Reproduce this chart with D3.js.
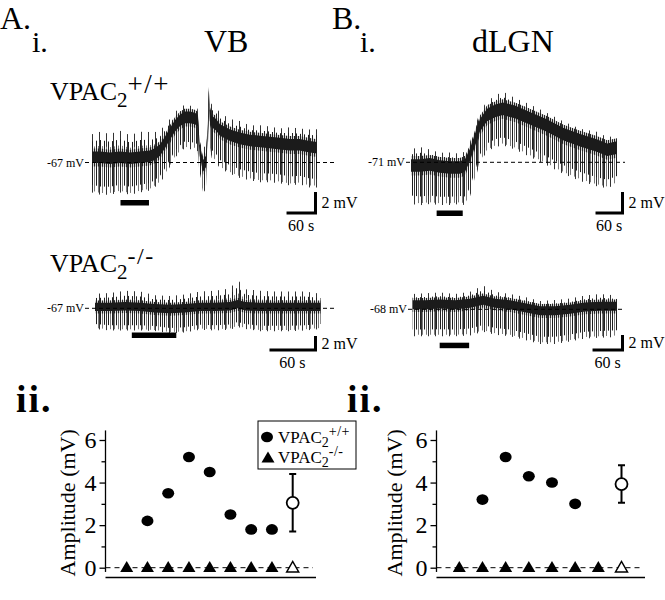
<!DOCTYPE html>
<html>
<head>
<meta charset="utf-8">
<script src="https://cdn.jsdelivr.net/npm/d3@7"></script>
<style>
    body { margin: 0; background: #fff; }
    svg, svg text { font-family: "Liberation Serif", "Times New Roman", Times, serif; }
    .ax line { stroke: #000; stroke-width: 1.3px; }
    .ax text { fill: #000; }
</style>
</head>
<body>
<svg id="fig" width="665" height="600"></svg>
<script>
// ---------- traces: time (s), mean level (mV re rest), spike height above and depth below (mV)
// A top: VB, VPAC2 +/+
var vbWtTime = [0, 17, 37, 58, 79, 99, 120, 130, 141, 151, 161, 172, 182, 192, 203, 213, 219, 223, 230, 236,
                240, 242, 244, 248, 257, 265, 286, 306, 327, 348, 368, 389, 410, 430, 451, 466];
var vbWtMid  = [0.5, 0.5, 0.4, 0.5, 0.4, 0.5, 0.6, 0.8, 1.2, 1.9, 2.7, 3.5, 4.0, 4.3, 4.3, 4.2, 4.0, 1.2, -0.3, 0.1,
                3.1, 6.4, 4.5, 3.9, 3.6, 3.1, 2.6, 2.3, 2.1, 2.0, 1.9, 1.8, 1.7, 1.7, 1.5, 1.4];
var vbWtUp   = [2.0, 2.2, 2.1, 2.3, 2.0, 2.2, 2.1, 1.9, 1.7, 1.5, 1.3, 1.2, 1.1, 1.1, 1.0, 1.1, 1.0, 1.2, 1.5, 1.4,
                1.0, 0.6, 1.2, 1.5, 1.5, 1.5, 1.4, 1.5, 1.3, 1.4, 1.4, 1.3, 1.5, 1.4, 1.5, 1.6];
var vbWtDown = [3.2, 3.4, 3.3, 3.2, 3.3, 3.2, 3.1, 3.0, 3.0, 3.0, 3.0, 2.9, 2.9, 2.8, 2.9, 2.8, 2.8, 2.6, 2.5, 2.5,
                2.0, 2.5, 3.0, 3.3, 3.4, 3.5, 3.5, 3.6, 3.6, 3.7, 3.6, 3.6, 3.7, 3.6, 3.7, 3.6];
// A bottom: VB, VPAC2 -/-
var vbKoTime = [0, 20, 39, 59, 78, 98, 117, 137, 156, 176, 186, 196, 215, 235, 254, 274, 294];
var vbKoMid  = [0.2, 0.2, 0.3, 0.2, 0.0, -0.1, 0.0, 0.2, 0.2, 0.3, 0.6, 0.3, 0.2, 0.2, 0.2, 0.2, 0.2];
var vbKoUp   = [1.7, 1.8, 2.0, 2.0, 1.7, 1.7, 1.8, 2.0, 2.1, 2.3, 3.2, 2.2, 2.1, 2.0, 2.0, 2.0, 1.7];
var vbKoDown = [3.0, 3.2, 3.3, 3.2, 3.1, 3.3, 3.3, 3.1, 3.2, 3.2, 3.1, 3.1, 3.3, 3.3, 3.3, 3.2, 3.0];
// B top: dLGN, VPAC2 +/+
var dlgnWtTime = [0, 20, 42, 64, 87, 109, 120, 131, 142, 153, 169, 187, 204, 231, 264, 302, 338, 376, 413, 436, 458];
var dlgnWtMid  = [-0.3, -0.3, -0.2, -0.4, -0.5, -0.5, -0.3, 0.7, 2.1, 3.5, 4.5, 4.9, 5.1, 4.8, 4.2, 3.5, 2.7, 2.1, 1.6, 1.2, 1.4];
var dlgnWtUp   = [1.4, 1.6, 1.3, 1.2, 1.3, 1.2, 1.2, 1.1, 1.1, 1.2, 1.2, 1.3, 1.5, 1.2, 1.2, 1.1, 1.1, 1.0, 1.2, 1.1, 1.0];
var dlgnWtDown = [3.5, 3.6, 3.6, 3.5, 3.4, 3.3, 3.6, 3.8, 3.6, 3.4, 3.3, 3.3, 3.3, 3.4, 3.5, 3.6, 3.6, 3.7, 3.7, 3.5, 3.3];
// B bottom: dLGN, VPAC2 -/-
var dlgnKoTime = [0, 25, 55, 85, 115, 141, 165, 195, 225, 255, 285, 315, 345, 375, 409];
var dlgnKoMid  = [0.6, 0.6, 0.7, 0.6, 0.8, 1.2, 0.8, 0.6, 0.2, -0.2, -0.2, 0.0, 0.3, 0.4, 0.4];
var dlgnKoUp   = [1.3, 1.4, 1.4, 1.3, 1.4, 1.8, 1.4, 1.3, 1.3, 1.2, 1.3, 1.3, 1.4, 1.5, 1.3];
var dlgnKoDown = [4.0, 4.0, 4.1, 4.0, 4.1, 4.0, 4.0, 4.0, 4.1, 4.2, 4.2, 4.1, 4.0, 4.0, 3.9];

// drug application windows (s)
var vbWtStim = [59, 118];
var vbKoStim = [48, 106];
var dlgnWtStim = [57, 115];
var dlgnKoStim = [54, 113];

var restLabels = ["-67 mV", "-67 mV", "-71 mV", "-68 mV"];

// ---------- amplitudes (mV), one per cell; null = no cell of that genotype in that column
var vbWt = [null, 2.2, 3.5, 5.2, 4.5, 2.5, 1.8, 1.8];
var vbKo = [0, 0, 0, 0, 0, 0, 0, 0];
var vbWtMean = 3.05, vbWtErr = 1.35, vbKoMean = 0;
var dlgnWt = [null, 3.2, 5.2, 4.3, 4.0, 3.0, null];
var dlgnKo = [0, 0, 0, 0, 0, 0, 0];
var dlgnWtMean = 3.93, dlgnWtErr = 0.88, dlgnKoMean = 0;
var yTicks = [0, 1, 2, 3, 4, 5, 6];

var FONT = "'Liberation Serif', 'Times New Roman', Times, serif";
var svg = d3.select("#fig").attr("font-family", FONT);
var defs = svg.append("defs");

// stripe patterns used to fill the spike envelopes
function stripes(id, period, offset, color, w) {
    var p = defs.append("pattern").attr("id", id)
        .attr("patternUnits", "userSpaceOnUse")
        .attr("width", period).attr("height", 10);
    p.append("rect").attr("x", offset).attr("y", 0)
        .attr("width", w).attr("height", 10).attr("fill", color);
}
stripes("spkA", 4, 0, "#1e1e1e", 1);
stripes("spkB", 4, 2, "#7a7a7a", 1);
stripes("spkC", 2, 0, "#222", 1.2);
stripes("spkD", 7, 1, "#333", 1);

function label(x, y, txt, size, anchor, weight) {
    return svg.append("text").attr("x", x).attr("y", y)
        .attr("font-family", FONT)
        .attr("font-size", size).attr("text-anchor", anchor || "start")
        .attr("font-weight", weight || "normal").attr("fill", "#000").text(txt);
}

function vpac(g, x, y, size, sup, subSize, supSize, supY, spacing) {
    var t = g.append("text").attr("x", x).attr("y", y).attr("font-family", FONT)
        .attr("font-size", size).attr("fill", "#000");
    t.append("tspan").text("VPAC");
    t.append("tspan").attr("font-size", subSize).attr("y", y + size * 0.26).text("2");
    t.append("tspan").attr("font-size", supSize).attr("y", supY).attr("letter-spacing", spacing).text(sup);
    return t;
}

function drawTrace(c) {
    var x = d3.scaleLinear().domain([0, c.dur]).range([c.x0, c.x1]);
    var y = d3.scaleLinear().domain([0, 1]).range([c.base, c.base - c.pxPerMv]);
    var pts = c.time.map(function (t, i) {
        return {t: t, m: c.mid[i], u: c.up[i], d: c.down[i]};
    });
    var g = svg.append("g");
    function band(lo, hi, fill) {
        g.append("path").datum(pts).attr("fill", fill)
            .attr("d", d3.area().x(function (d) { return x(d.t); })
                .y0(function (d) { return y(lo(d)); })
                .y1(function (d) { return y(hi(d)); }));
    }
    // spikes below and above, then the dense noisy core
    band(function (d) { return d.m - d.d; }, function (d) { return d.m; }, "url(#spkB)");
    band(function (d) { return d.m - d.d * 1.05; }, function (d) { return d.m; }, "url(#spkD)");
    band(function (d) { return d.m - d.d * 0.82; }, function (d) { return d.m; }, "url(#spkA)");
    band(function (d) { return d.m; }, function (d) { return d.m + d.u * 1.1; }, "url(#spkD)");
    band(function (d) { return d.m; }, function (d) { return d.m + d.u * 0.75; }, "url(#spkA)");
    band(function (d) { return d.m; }, function (d) { return d.m + d.u * 0.5; }, "url(#spkB)");
    band(function (d) { return d.m - c.core * 1.6; }, function (d) { return d.m + c.core * 1.5; }, "url(#spkC)");
    band(function (d) { return d.m - c.core; }, function (d) { return d.m + c.core; }, "#1b1b1b");

    // resting potential
    g.append("line").attr("x1", c.labelEnd + 1).attr("x2", c.dashEnd)
        .attr("y1", y(0)).attr("y2", y(0))
        .attr("stroke", "#000").attr("stroke-width", 1).attr("stroke-dasharray", "4,3");
    g.append("text").attr("x", c.labelEnd).attr("y", y(0) + 4).attr("font-family", FONT)
        .attr("text-anchor", "end").attr("font-size", 12).attr("fill", "#000").text(c.rest);

    // application bar
    g.append("rect").attr("x", x(c.stim[0])).attr("width", x(c.stim[1]) - x(c.stim[0]))
        .attr("y", c.stimY).attr("height", 5.5).attr("fill", "#000");

    // scale bars: 60 s and 2 mV
    var hx = x(60) - x(0), vy = y(0) - y(2);
    g.append("path").attr("fill", "none").attr("stroke", "#000").attr("stroke-width", 3)
        .attr("d", "M" + (c.sbX - hx) + "," + c.sbY + "H" + c.sbX + "V" + (c.sbY - vy));
    g.append("text").attr("x", c.sbX + 6).attr("y", c.sbY - vy / 2 + 5.5).attr("font-family", FONT)
        .attr("font-size", 16).attr("fill", "#000").text("2 mV");
    g.append("text").attr("x", c.sbX - hx / 2).attr("y", c.sbY + 18).attr("font-family", FONT)
        .attr("text-anchor", "middle").attr("font-size", 16).attr("fill", "#000").text("60 s");
}

drawTrace({time: vbWtTime, mid: vbWtMid, up: vbWtUp, down: vbWtDown, core: 0.55,
    dur: 466, x0: 92, x1: 317, base: 162.5, pxPerMv: 10.5, rest: restLabels[0],
    labelEnd: 84, dashEnd: 337, stim: vbWtStim, stimY: 200, sbX: 315.5, sbY: 213});
drawTrace({time: vbKoTime, mid: vbKoMid, up: vbKoUp, down: vbKoDown, core: 0.6,
    dur: 294, x0: 95, x1: 320.5, base: 308.3, pxPerMv: 7, rest: restLabels[1],
    labelEnd: 84, dashEnd: 337, stim: vbKoStim, stimY: 332.5, sbX: 315.5, sbY: 350});
drawTrace({time: dlgnWtTime, mid: dlgnWtMid, up: dlgnWtUp, down: dlgnWtDown, core: 0.6,
    dur: 458, x0: 411, x1: 617, base: 162.3, pxPerMv: 10.5, rest: restLabels[2],
    labelEnd: 405, dashEnd: 625, stim: dlgnWtStim, stimY: 210.5, sbX: 622.5, sbY: 213});
drawTrace({time: dlgnKoTime, mid: dlgnKoMid, up: dlgnKoUp, down: dlgnKoDown, core: 0.6,
    dur: 409, x0: 412.7, x1: 617, base: 309.3, pxPerMv: 7.5, rest: restLabels[3],
    labelEnd: 407, dashEnd: 625, stim: dlgnKoStim, stimY: 342.7, sbX: 622.5, sbY: 350});

// ---------- scatter panels
function triPath(cx, cy, w, h) {
    return "M" + (cx - w / 2) + "," + (cy + h * 0.4) + "L" + (cx + w / 2) + "," + (cy + h * 0.4) +
        "L" + cx + "," + (cy - h * 0.6) + "Z";
}

function drawScatter(c) {
    var n = c.ko.length;
    var x = d3.scaleLinear().domain([0, n]).range([c.xFirst, c.xMean]);
    var y = d3.scaleLinear().domain([0, 6]).range([567.7, 440]);
    var g = svg.append("g");

    var ax = g.append("g").attr("class", "ax").attr("transform", "translate(" + c.axisX + ",0)")
        .call(d3.axisLeft(y).tickValues(yTicks).tickSize(6).tickPadding(3)
            .tickFormat(function (d) { return d % 2 ? "" : d; }));
    ax.attr("font-family", FONT).attr("font-size", 24);
    ax.select(".domain").remove();
    ax.selectAll(".tick line").attr("x2", function (d) { return d % 2 ? -4 : -6; });
    g.append("line").attr("x1", c.axisX).attr("x2", c.axisX)
        .attr("y1", y(6.45)).attr("y2", y(-0.2)).attr("stroke", "#000").attr("stroke-width", 1.3);
    g.append("line").attr("x1", c.axisX).attr("x2", c.axisEnd)
        .attr("y1", 577.5).attr("y2", 577.5).attr("stroke", "#000").attr("stroke-width", 1.3);
    g.append("line").attr("x1", c.axisX).attr("x2", c.axisEnd - 3)
        .attr("y1", y(0)).attr("y2", y(0)).attr("stroke", "#000").attr("stroke-width", 1)
        .attr("stroke-dasharray", "5,4");

    g.append("text").attr("transform", "translate(" + c.labelX + "," + (y(3) - 1) + ") rotate(-90)")
        .attr("font-family", FONT)
        .attr("text-anchor", "middle").attr("font-size", 22).attr("fill", "#000").text("Amplitude (mV)");

    g.selectAll(".wt").data(c.wt.map(function (v, i) { return {v: v, i: i}; })
            .filter(function (d) { return d.v !== null; }))
        .enter().append("ellipse")
        .attr("cx", function (d) { return x(d.i); }).attr("cy", function (d) { return y(d.v); })
        .attr("rx", 6).attr("ry", 5.3).attr("fill", "#000");

    g.selectAll(".ko").data(c.ko).enter().append("path")
        .attr("d", function (d, i) { return triPath(x(i), y(d), 13, 11); }).attr("fill", "#000");

    // group mean +/- error
    var mx = x(n);
    g.append("path").attr("fill", "none").attr("stroke", "#000").attr("stroke-width", 2)
        .attr("d", "M" + (mx - 3.5) + "," + y(c.mean + c.err) + "H" + (mx + 3.5) +
            "M" + mx + "," + y(c.mean + c.err) + "V" + y(c.mean - c.err) +
            "M" + (mx - 3.5) + "," + y(c.mean - c.err) + "H" + (mx + 3.5));
    g.append("circle").attr("cx", mx).attr("cy", y(c.mean)).attr("r", 6)
        .attr("fill", "#fff").attr("stroke", "#000").attr("stroke-width", 1.8);
    g.append("path").attr("d", triPath(mx, y(c.koMean), 12, 10.5))
        .attr("fill", "#fff").attr("stroke", "#000").attr("stroke-width", 1.5);
}

drawScatter({wt: vbWt, ko: vbKo, mean: vbWtMean, err: vbWtErr, koMean: vbKoMean,
    xFirst: 126.7, xMean: 292.7, axisX: 105.5, axisEnd: 316, labelX: 75});
drawScatter({wt: dlgnWt, ko: dlgnKo, mean: dlgnWtMean, err: dlgnWtErr, koMean: dlgnKoMean,
    xFirst: 459.3, xMean: 621.5, axisX: 436.5, axisEnd: 645, labelX: 402});

// legend
var lg = svg.append("g");
lg.append("rect").attr("x", 258).attr("y", 421).attr("width", 98).attr("height", 48)
    .attr("fill", "#fff").attr("stroke", "#000").attr("stroke-width", 1);
lg.append("ellipse").attr("cx", 267).attr("cy", 437).attr("rx", 6).attr("ry", 5.3).attr("fill", "#000");
lg.append("path").attr("d", triPath(268, 458, 13, 11)).attr("fill", "#000");
vpac(lg, 278, 443, 17, "+/+", 14, 14, 436, 0.5);
vpac(lg, 278, 463, 17, "-/-", 14, 14, 456, 0.5);

// ---------- panel titles
label(0, 29, "A.", 32);
label(32, 52, "i.", 30);
label(204, 52, "VB", 32);
label(332, 29, "B.", 32);
label(360, 52, "i.", 30);
label(472, 52, "dLGN", 32);
label(16, 412, "ii.", 38, "start", "bold").attr("letter-spacing", 2);
label(347, 412, "ii.", 38, "start", "bold").attr("letter-spacing", 2);
vpac(svg, 50, 100, 26, "+/+", 21, 27, 93, 1.5);
vpac(svg, 50, 272, 26, "-/-", 21, 24, 264, 1.5);
</script>
</body>
</html>
